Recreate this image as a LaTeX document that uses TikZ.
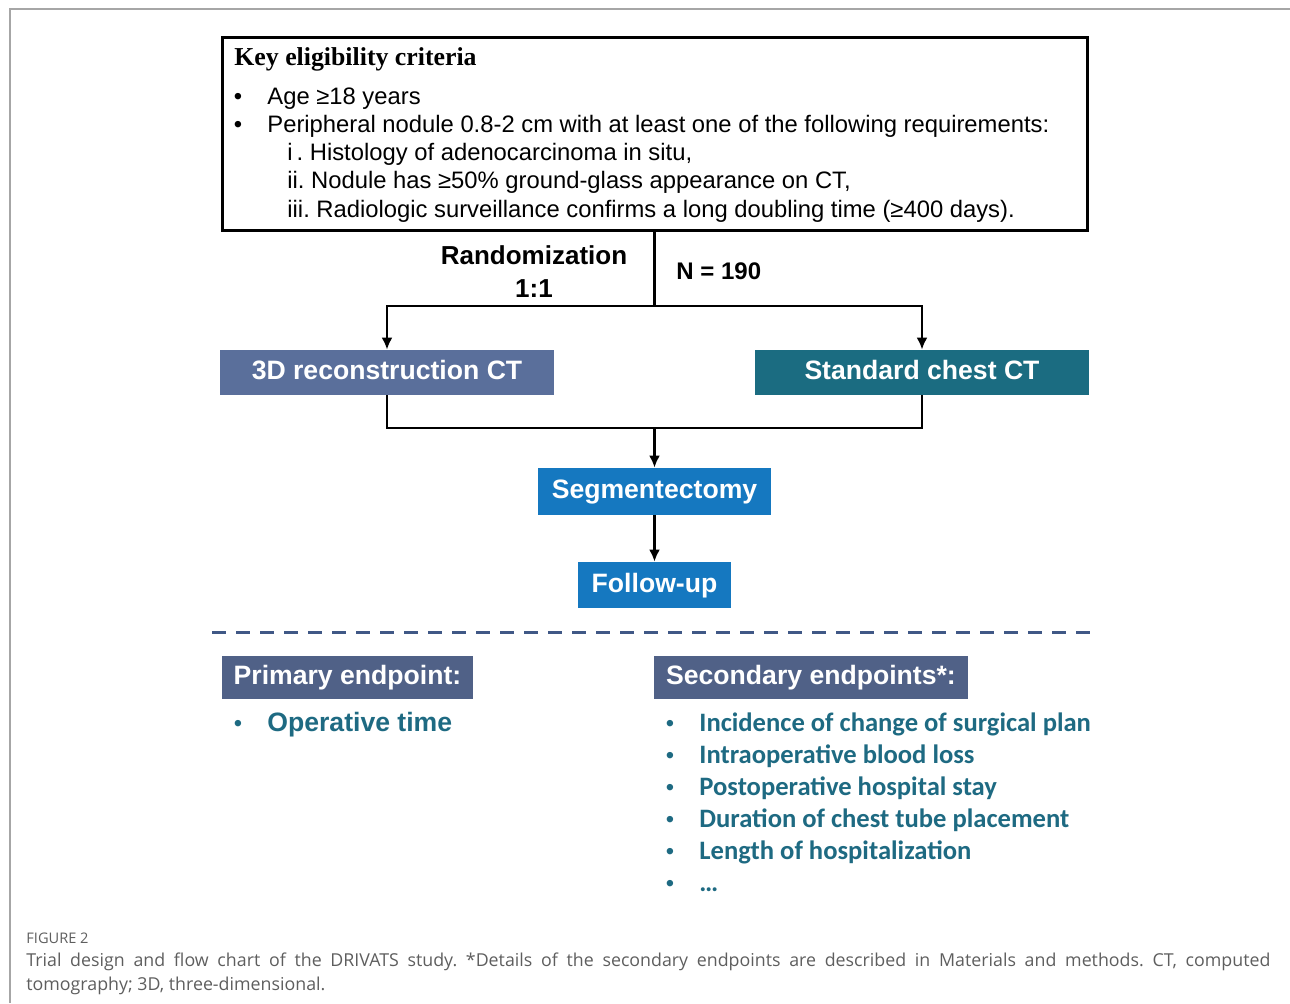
\documentclass[tikz,border=0pt]{standalone}
\usepackage{fontspec}
\setmainfont{Liberation Sans}
\newfontfamily\keyfont{Liberation Serif}
\newfontfamily\listfont{Carlito}
\newfontfamily\capfont{Open Sans}
\usetikzlibrary{arrows.meta}

\definecolor{reconblue}{HTML}{5A6F9B}
\definecolor{chestteal}{HTML}{1B6C81}
\definecolor{surgblue}{HTML}{1578C0}
\definecolor{headslate}{HTML}{506187}
\definecolor{tealtext}{HTML}{1E6A82}
\definecolor{dashslate}{HTML}{405886}
\definecolor{capgray}{HTML}{5E5E5E}

\begin{document}
\frenchspacing
\begin{tikzpicture}[x=0.5pt,y=-0.5pt,
  every node/.style={inner sep=0pt},
  flow/.style={line width=1.4pt,draw=black},
  arr/.style={flow,-{Latex[length=6pt,width=5.5pt]}},
  tagbox/.style={fill=#1,text=white,text height=0.72em,text depth=0pt,
    font=\fontsize{13.3}{16}\selectfont\bfseries,minimum height=22.5pt}]
  \def\critsize{\fontsize{11.9}{14}\selectfont}
  \useasboundingbox (0,0) rectangle (1290,1003);

  % page frame
  \draw[gray!70,line width=0.6pt] (10,1003) -- (10,9) -- (1290,9);

  % eligibility box
  \node[draw,line width=1.5pt,minimum width=432.5pt,minimum height=96.5pt] (crit) at (654.5,133.5) {};
  \node[anchor=base west,font=\keyfont\fontsize{12.9}{15}\selectfont\bfseries] (keyhead) at (234,65) {Key eligibility criteria};
  \foreach \yy/\txt [count=\i] in {104/{Age ≥18 years},132/{Peripheral nodule 0.8-2 cm with at least one of the following requirements:}} {
    \node[anchor=base,font=\critsize] (cbul\i) at (238,\yy) {•};
    \node[anchor=base west,font=\critsize] (crow\i) at (267,\yy) {\txt};
  }
  \foreach \yy/\txt [count=\i] in {160/{i\,. Histology of adenocarcinoma in situ,},188/{ii. Nodule has ≥50\% ground-glass appearance on CT,},217/{iii. Radiologic surveillance confirms a long doubling time (≥400 days).}} {
    \node[anchor=base west,font=\critsize] (csub\i) at (287,\yy) {\txt};
  }

  % randomisation
  \node[align=center,font=\fontsize{13}{16.5}\selectfont\bfseries] (rand) at (534,272) {Randomization\\1:1};
  \node[anchor=base west,font=\fontsize{12}{14}\selectfont\bfseries] (nnum) at (676,279) {N = 190};

  \node[tagbox=reconblue,minimum width=167pt] (recon) at (387,372.5) {3D reconstruction CT};
  \node[tagbox=chestteal,minimum width=167pt] (chest) at (922,372.5) {Standard chest CT};
  \node[tagbox=surgblue,minimum width=116.5pt,minimum height=23.5pt] (surg) at (654.5,491.5) {Segmentectomy};
  \node[tagbox=surgblue,minimum width=76.5pt,minimum height=23pt] (follow) at (654.5,585) {Follow-up};

  \coordinate (split) at (crit.south |- 0,306);
  \coordinate (merge) at (surg.north |- 0,428);
  \draw[flow] (crit.south) -- (split);
  \draw[arr] (split) -| (recon.north);
  \draw[arr] (split) -| (chest.north);
  \draw[flow] (recon.south) |- (merge) -| (chest.south);
  \draw[arr] (merge) -- (surg.north);
  \draw[arr] (surg.south) -- (follow.north);

  % endpoints
  \draw[dashslate,line width=1.5pt,dash pattern=on 7pt off 5pt] (212,632) -- (1092,632);
  \node[tagbox=headslate,minimum width=125.5pt,minimum height=21.5pt] (prim) at (347.5,677.5) {Primary endpoint:};
  \node[tagbox=headslate,minimum width=157pt,minimum height=21.5pt] (second) at (811,677.5) {Secondary endpoints*:};

  \node[anchor=base,text=tealtext,font=\critsize] (pbul) at (238,731) {•};
  \node[anchor=base west,text=tealtext,font=\fontsize{13.3}{16}\selectfont\bfseries] (optime) at (267,731) {Operative time};
  \foreach \txt [count=\i from 0] in {Incidence of change of surgical plan,Intraoperative blood loss,Postoperative hospital stay,Duration of chest tube placement,Length of hospitalization,{\ldots}} {
    \node[anchor=base,text=tealtext,font=\critsize] (sbul\i) at (670,731+32*\i) {•};
    \node[anchor=base west,text=tealtext,font=\listfont\fontsize{13.3}{16}\selectfont\bfseries] (srow\i) at (699,731+32*\i) {\txt};
  }

  % caption
  \node[anchor=base west,text=capgray,font=\capfont\fontsize{7.3}{9}\selectfont] (figlab) at (26,943) {FIGURE 2};
  \node[anchor=base west,text=capgray,font=\capfont\fontsize{8.9}{10}\selectfont] (capone) at (26,966) {\makebox[622pt][s]{Trial design and flow chart of the DRIVATS study. *Details of the secondary endpoints are described in Materials and methods. CT, computed}};
  \node[anchor=base west,text=capgray,font=\capfont\fontsize{8.9}{10}\selectfont] (captwo) at (26,990) {tomography; 3D, three-dimensional.};
\end{tikzpicture}
\end{document}
